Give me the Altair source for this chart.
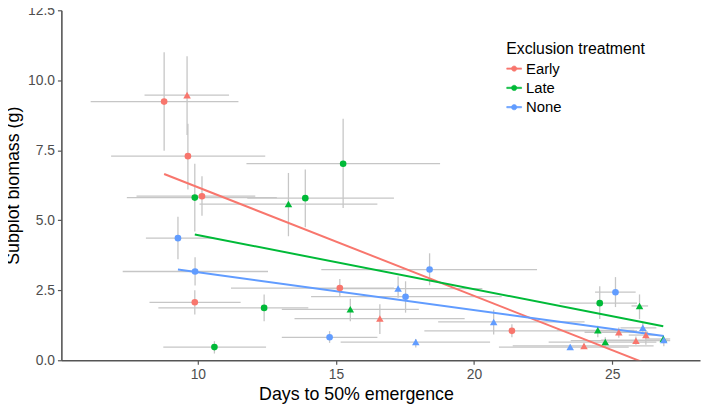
import altair as alt
import pandas as pd

# --- data ---
treatment = (["Early"] * 12) + (["Late"] * 12) + (["None"] * 12)
site = (
    ["A", "A", "A", "A", "A", "A", "B", "B", "B", "B", "B", "B"] +
    ["A", "A", "A", "A", "A", "A", "B", "B", "B", "B", "B", "B"] +
    ["A", "A", "A", "A", "A", "A", "B", "B", "B", "B", "B", "B"]
)
days = [8.78, 9.64, 10.15, 9.89, 15.14, 21.37, 9.61, 16.59, 23.98, 25.24, 25.86, 26.22,
        9.89, 10.60, 12.40, 13.89, 15.26, 24.55, 13.28, 15.52, 24.48, 24.75, 25.99, 26.85,
        9.28, 9.90, 14.77, 17.52, 18.39, 25.12, 17.25, 17.89, 20.71, 23.48, 26.11, 26.87]
biomass = [9.24, 7.29, 5.86, 2.07, 2.58, 1.05, 9.47, 1.49, 0.51, 1.00, 0.70, 0.90,
           5.81, 0.47, 1.87, 5.79, 7.02, 2.04, 5.58, 1.82, 1.07, 0.65, 1.94, 0.76,
           4.36, 3.17, 0.82, 2.27, 3.24, 2.43, 2.56, 0.65, 1.37, 0.47, 1.16, 0.72]
days_lo = [6.12, 6.86, 7.78, 8.25, 11.20, 18.20, 8.07, 13.50, 21.40, 24.00, 23.50, 25.60,
           7.43, 8.75, 8.57, 11.79, 11.76, 23.10, 10.06, 13.04, 23.00, 22.70, 25.70, 26.20,
           8.12, 7.28, 13.04, 14.10, 14.47, 24.38, 14.40, 15.17, 18.70, 20.90, 25.30, 24.60]
days_hi = [11.47, 12.44, 12.08, 11.55, 17.10, 25.90, 11.13, 19.66, 26.50, 26.30, 27.10, 26.60,
           12.86, 12.47, 14.00, 17.10, 18.77, 25.90, 16.50, 18.00, 25.80, 26.60, 26.30, 27.10,
           10.60, 12.54, 16.50, 21.00, 22.28, 25.85, 20.30, 20.58, 24.00, 25.60, 26.60, 27.00]
bio_lo = [7.48, 6.10, 5.16, 1.63, 2.29, 0.82, 8.05, 0.94, 0.40, 0.80, 0.55, 0.55,
          4.60, 0.24, 1.39, 4.75, 5.44, 1.47, 4.43, 1.39, 0.82, 0.47, 1.47, 0.60,
          3.61, 2.67, 0.62, 1.70, 2.68, 1.90, 2.23, 0.46, 0.92, 0.40, 1.00, 0.50]
bio_hi = [11.00, 8.45, 6.57, 2.50, 2.90, 1.29, 10.86, 2.00, 0.60, 1.17, 0.85, 1.07,
          7.02, 0.68, 2.35, 6.81, 8.63, 2.64, 6.69, 2.20, 1.23, 0.82, 2.35, 0.90,
          5.13, 3.68, 1.04, 2.82, 3.82, 2.97, 2.99, 0.76, 1.80, 0.55, 1.35, 0.85]

levels = ["Early", "Late", "None"]
palette = ["#F8766D", "#00BA38", "#619CFF"]

df = pd.DataFrame({
    "treatment": treatment, "site": site, "days": days, "biomass": biomass,
    "days_lo": days_lo, "days_hi": days_hi, "bio_lo": bio_lo, "bio_hi": bio_hi,
})

xscale = alt.Scale(domain=[5.06, 28.18], nice=False, zero=False)
yscale = alt.Scale(domain=[0, 12.5], nice=False, zero=False)

xaxis = alt.Axis(title="Days to 50% emergence", values=[10, 15, 20, 25], grid=False,
                 titleX=298, titleAlign="center")
yaxis = alt.Axis(title="Subplot biomass (g)", values=[0, 2.5, 5, 7.5, 10, 12.5],
                 format=".1f", grid=False)

base = alt.Chart(df)
bar_col = "#c6c6c6"

hbars = base.mark_rule(color=bar_col, strokeWidth=1.3).encode(
    x=alt.X("days_lo:Q", scale=xscale, axis=xaxis),
    x2="days_hi:Q",
    y=alt.Y("biomass:Q", scale=yscale, axis=yaxis),
)
vbars = base.mark_rule(color=bar_col, strokeWidth=1.3).encode(
    x=alt.X("days:Q", scale=xscale),
    y=alt.Y("bio_lo:Q", scale=yscale),
    y2="bio_hi:Q",
)

# legend key: a short horizontal bar with a dot on it (line + point)
legend_path = ("M-1,-0.09L1,-0.09L1,0.09L-1,0.09Z"
               "M-0.36,0A0.36,0.36,0,1,1,0.36,0A0.36,0.36,0,1,1,-0.36,0Z")
leg = alt.Legend(title="Exclusion treatment", orient="none", legendX=450, legendY=31,
                 symbolType=legend_path, symbolSize=225, symbolStrokeWidth=0.6,
                 rowPadding=3.5, titlePadding=4)

lines = base.transform_regression(
    "days", "biomass", groupby=["treatment"]
).mark_line(strokeWidth=2, clip=True).encode(
    x=alt.X("days:Q", scale=xscale),
    y=alt.Y("biomass:Q", scale=yscale),
    stroke=alt.Stroke("treatment:N", scale=alt.Scale(domain=levels, range=palette),
                      legend=leg),
)

points = base.mark_point(filled=True, opacity=1, strokeWidth=0).encode(
    x=alt.X("days:Q", scale=xscale),
    y=alt.Y("biomass:Q", scale=yscale),
    fill=alt.Fill("treatment:N", scale=alt.Scale(domain=levels, range=palette),
                  legend=leg),
    shape=alt.Shape("site:N", scale=alt.Scale(domain=["A", "B"],
                                              range=["circle", "triangle-up"]), legend=None),
    size=alt.Size("site:N", scale=alt.Scale(domain=["A", "B"], range=[45, 58]), legend=None),
)

chart = alt.layer(hbars, vbars, lines, points).properties(
    width=646, height=354,
    autosize=alt.AutoSizeParams(type="none"),
    padding={"left": 54, "top": 0, "right": 1, "bottom": 48},
).configure_view(stroke=None).configure_axis(
    domainColor="#555555", domainWidth=1.6, tickColor="#555555", tickWidth=1.2,
    tickSize=4, labelFont="Liberation Sans", labelFontSize=14, labelColor="#4d4d4d",
    titleFont="Liberation Sans", titleFontSize=18, titleColor="#000000",
    titleFontWeight="normal", labelPadding=3,
).configure_axisX(titlePadding=5).configure_axisY(titlePadding=5).configure_legend(
    titleFont="Liberation Sans", titleFontSize=16, titleFontWeight="normal",
    titleColor="#000000", labelFont="Liberation Sans", labelFontSize=15,
    labelColor="#000000", labelOffset=4,
)

chart.save("out.html", embed_options={"renderer": "svg", "actions": False})
